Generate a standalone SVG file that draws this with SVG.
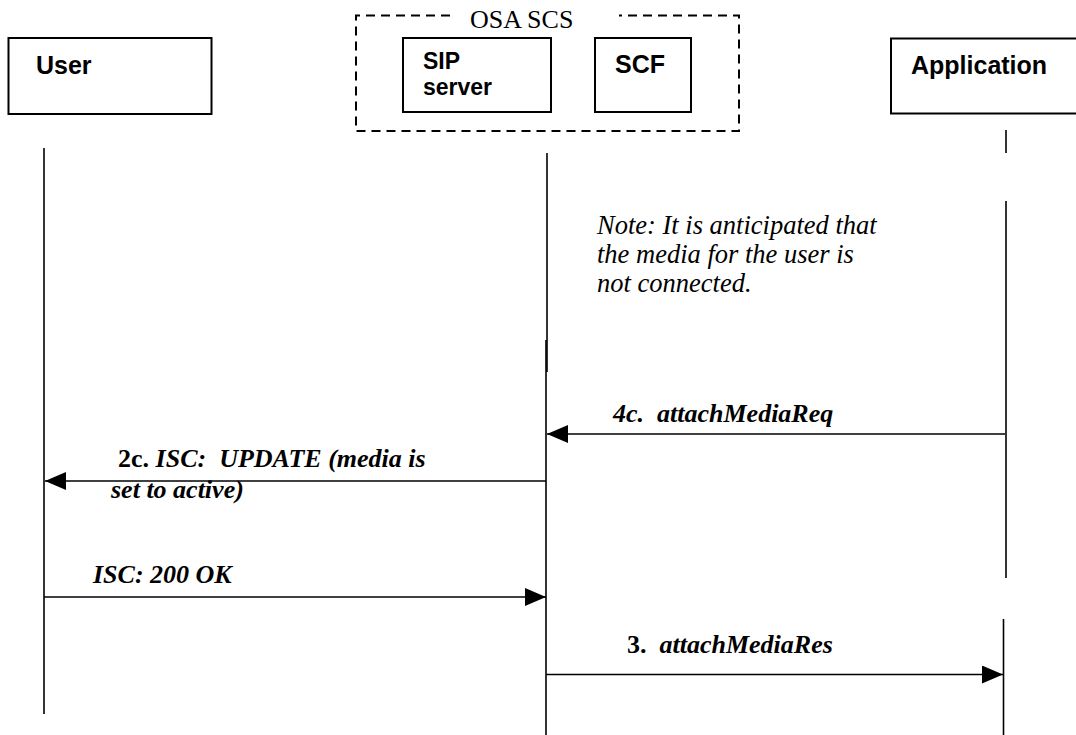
<svg xmlns="http://www.w3.org/2000/svg" width="1076" height="735" viewBox="0 0 1076 735">
<style>
text{white-space:pre}
.box{fill:#fff;stroke:#000;stroke-width:2}
.dash{fill:none;stroke:#000;stroke-width:2;stroke-dasharray:9,6}
.life{stroke:#000;stroke-width:1.6;fill:none}
.msg{stroke:#000;stroke-width:1.6;fill:none;marker-end:url(#ah)}
.sans{font-family:"Liberation Sans",Arial,sans-serif;font-weight:bold;fill:#000}
.serif{font-family:"Liberation Serif","Times New Roman",serif;fill:#000}
.lbl{font-family:"Liberation Serif","Times New Roman",serif;font-size:26px;font-weight:bold;font-style:italic;fill:#000}
.up{font-style:normal}
</style>
<defs>
<marker id="ah" markerUnits="userSpaceOnUse" markerWidth="22" markerHeight="20" refX="21" refY="9" orient="auto">
<path d="M0,0 L21,9 L0,18 Z" fill="#000"/>
</marker>
</defs>
<g id="user">
<rect class="box" x="8.5" y="38" width="203" height="76"/>
<text class="sans" x="36" y="74" font-size="25">User</text>
</g>
<g id="osa-scs">
<path class="dash" d="M450,15.5 H356 V131 H739 V15.5 H619"/>
<text class="serif" x="470" y="28" font-size="26">OSA SCS</text>
</g>
<g id="sip-server">
<rect class="box" x="403" y="38" width="148" height="74"/>
<text class="sans" x="423" y="69" font-size="23">SIP</text>
<text class="sans" x="423" y="95" font-size="23">server</text>
</g>
<g id="scf">
<rect class="box" x="595" y="38" width="96" height="74"/>
<text class="sans" x="615" y="73" font-size="25">SCF</text>
</g>
<g id="application">
<rect class="box" x="891" y="38.5" width="200" height="75"/>
<text class="sans" x="911" y="73.5" font-size="25">Application</text>
</g>
<g id="note">
<text class="serif" font-size="26.5" font-style="italic">
<tspan x="597" y="234">Note: It is anticipated that</tspan>
<tspan x="597" y="263">the media for the user is</tspan>
<tspan x="597" y="292">not connected.</tspan>
</text>
</g>
<g id="lifelines">
<line class="life" x1="44" y1="148" x2="44" y2="714"/>
<line class="life" x1="547" y1="153" x2="547" y2="372"/>
<line class="life" x1="546" y1="340" x2="546" y2="735"/>
<line class="life" x1="1006" y1="130" x2="1006" y2="153"/>
<line class="life" x1="1006" y1="201" x2="1006" y2="578"/>
<line class="life" x1="1003.5" y1="619" x2="1003.5" y2="735"/>
</g>
<g id="connectors">
<line class="msg" x1="1005" y1="434" x2="547" y2="434"/>
<line class="msg" x1="546" y1="481" x2="45" y2="481"/>
<line class="msg" x1="44" y1="597" x2="546" y2="597"/>
<line class="msg" x1="546" y1="674.5" x2="1003" y2="674.5"/>
</g>
<g id="labels">
<text class="lbl" x="613" y="422">4c.  attachMediaReq</text>
<text class="lbl" x="118" y="467"><tspan class="up">2c.</tspan> ISC:  UPDATE (media is</text>
<text class="lbl" x="111" y="498">set to active)</text>
<text class="lbl" x="93" y="583">ISC: 200 OK</text>
<text class="lbl" x="627" y="653"><tspan class="up">3.</tspan>  attachMediaRes</text>
</g>
</svg>
